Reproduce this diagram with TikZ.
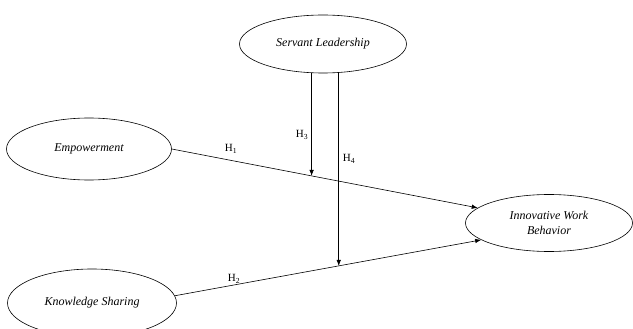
\documentclass[tikz,border=0pt]{standalone}
\usepackage{fontspec}
\setmainfont{Liberation Serif}
\usetikzlibrary{arrows.meta,shapes.geometric}
\begin{document}
\begin{tikzpicture}[x=1pt,y=-1pt,
  ell/.style={draw, ellipse, line width=0.6pt, inner sep=0pt, font=\fontsize{12}{15}\selectfont\itshape, align=center},
  arr/.style={line width=0.6pt, -{Latex[length=6pt,width=4.5pt]}},
  hlab/.style={font=\fontsize{11}{12}\selectfont, inner sep=0pt}]
\useasboundingbox (0,0) rectangle (633,329);
\node[ell, minimum width=167pt, minimum height=58pt] (sl) at (323,44) {Servant Leadership};
\node[ell, minimum width=165pt, minimum height=62pt] (emp) at (89,149) {Empowerment};
\node[ell, minimum width=167pt, minimum height=57pt] (iwb) at (549,223) {Innovative Work\\Behavior};
\node[ell, minimum width=169pt, minimum height=68pt] (ks) at (92,303) {Knowledge Sharing};
\draw[arr] (emp.east) -- (iwb.168) coordinate[pos=0.457] (m1);
\draw[arr] (ks.5) -- (iwb.194) coordinate[pos=0.535] (m2);
\draw[arr] (m1 |- sl.south) -- (m1);
\draw[arr] (m2 |- sl.south) -- (m2);
\node[hlab] (h1) at (231,149) {H\textsubscript{1}};
\node[hlab] (h2) at (234,279) {H\textsubscript{2}};
\node[hlab] (h3) at (302,135) {H\textsubscript{3}};
\node[hlab] (h4) at (349,159) {H\textsubscript{4}};
\end{tikzpicture}
\end{document}
